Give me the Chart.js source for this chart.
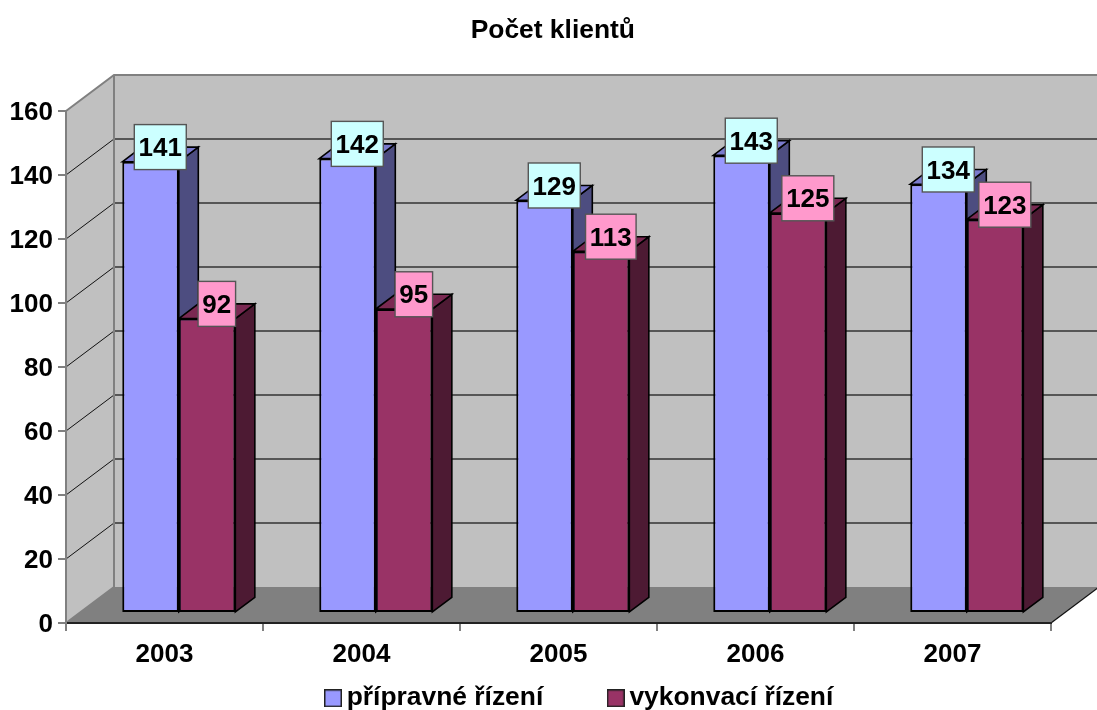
<!DOCTYPE html>
<html><head><meta charset="utf-8">
<style>html,body{margin:0;padding:0;background:#fff}canvas{display:block}</style>
<script src="https://cdn.jsdelivr.net/npm/chart.js@4"></script></head>
<body><canvas id="c" width="1097" height="710"></canvas>
<script>
const categories = ['2003','2004','2005','2006','2007'];
const pripravne = [141,142,129,143,134];
const vykonvaci = [92,95,113,125,123];
const seriesNames = ['přípravné řízení','vykonvací řízení'];
const titleText = 'Počet klientů';
const FONT = 'Arial, "Liberation Sans", sans-serif';
const FS = 26;

// 3D projection (pixels)
const WALL = {dx:48, dy:36};
const BAR_IN = {dx:14.3, dy:10};
const BAR_D = {dx:19.5, dy:14.7};

const faces = [
  {front:'#9999ff', top:'#7a7acc', side:'#4d4d80', label:'#ccffff'},
  {front:'#993366', top:'#7a2952', side:'#4d1a33', label:'#ff99cc'}
];

function legendSwatch(color){
  const c=document.createElement('canvas');c.width=18;c.height=18;
  const g=c.getContext('2d');g.fillStyle=color;g.fillRect(0,0,18,18);
  g.strokeStyle='#222';g.lineWidth=1.5;g.strokeRect(.75,.75,16.5,16.5);return c;
}
const GAP = 72;

const plugin3d = {
  id:'plugin3d',
  beforeLayout(chart){
    const l=chart.legend;
    if(l && !l._fitWrapped){
      const f=l.fit;
      l.fit=function(){f.call(this);this.height=36;};
      l._fitWrapped=true;
    }
  },
  afterLayout(chart){
    const l=chart.legend;
    l.left=332.5-GAP; l.right=1097; l.top=685-GAP; l.bottom=710;
    const t=chart.titleBlock;
    t.left+=27.3; t.right+=27.3;
  },
  beforeDraw(chart){
    const {ctx,chartArea:a,scales:{y}}=chart;
    const L=a.left,R=a.right,B=y.getPixelForValue(0),T=y.getPixelForValue(160);
    const d=WALL;
    ctx.save();
    ctx.fillStyle='#c0c0c0';
    ctx.fillRect(L+d.dx,T-d.dy,R-L,B-T);
    ctx.beginPath();ctx.moveTo(L,B);ctx.lineTo(L,T);ctx.lineTo(L+d.dx,T-d.dy);ctx.lineTo(L+d.dx,B-d.dy);ctx.closePath();ctx.fill();
    ctx.fillStyle='#808080';
    ctx.beginPath();ctx.moveTo(L,B);ctx.lineTo(R,B);ctx.lineTo(R+d.dx,B-d.dy);ctx.lineTo(L+d.dx,B-d.dy);ctx.closePath();ctx.fill();
    // gridlines
    y.ticks.forEach(t=>{
      if(t.value===0||t.value===160) return;
      const p=y.getPixelForValue(t.value);
      ctx.strokeStyle='#111';ctx.lineWidth=1;
      ctx.beginPath();ctx.moveTo(L,p);ctx.lineTo(L+d.dx,p-d.dy);ctx.stroke();
      ctx.strokeStyle='#333';ctx.lineWidth=1.4;
      ctx.beginPath();ctx.moveTo(L+d.dx,p-d.dy);ctx.lineTo(R+d.dx,p-d.dy);ctx.stroke();
    });
    // wall edges
    ctx.strokeStyle='#808080';ctx.lineWidth=2;
    ctx.beginPath();ctx.moveTo(L,T);ctx.lineTo(L+d.dx,T-d.dy);ctx.lineTo(R+d.dx,T-d.dy);ctx.stroke();
    ctx.beginPath();ctx.moveTo(L+d.dx,T-d.dy);ctx.lineTo(L+d.dx,B-d.dy);ctx.lineTo(L,B);ctx.stroke();
    ctx.strokeStyle='#111';ctx.lineWidth=1.2;
    ctx.beginPath();ctx.moveTo(R,B);ctx.lineTo(R+d.dx,B-d.dy);ctx.stroke();
    ctx.restore();
  },
  beforeDatasetsDraw(chart){
    const {ctx}=chart;
    ctx.save();
    ctx.translate(BAR_IN.dx,-BAR_IN.dy);
    ctx.strokeStyle='#000';ctx.lineWidth=1.6;ctx.lineJoin='miter';
    chart.getSortedVisibleDatasetMetas().forEach(meta=>{
      const f=faces[meta.index];
      meta.data.forEach(b=>{
        const xr=b.x+b.width/2, xl=b.x-b.width/2, yt=b.y, yb=b.base;
        ctx.fillStyle=f.side;
        ctx.beginPath();ctx.moveTo(xr,yt);ctx.lineTo(xr+BAR_D.dx,yt-BAR_D.dy);ctx.lineTo(xr+BAR_D.dx,yb-BAR_D.dy);ctx.lineTo(xr,yb);ctx.closePath();ctx.fill();ctx.stroke();
        ctx.fillStyle=f.top;
        ctx.beginPath();ctx.moveTo(xl,yt);ctx.lineTo(xl+BAR_D.dx,yt-BAR_D.dy);ctx.lineTo(xr+BAR_D.dx,yt-BAR_D.dy);ctx.lineTo(xr,yt);ctx.closePath();ctx.fill();ctx.stroke();
      });
    });
    ctx.restore();
  },
  beforeDatasetDraw(chart){chart.ctx.save();chart.ctx.translate(BAR_IN.dx,-BAR_IN.dy);},
  afterDatasetDraw(chart){chart.ctx.restore();},
  afterDatasetsDraw(chart){
    const {ctx}=chart;
    ctx.save();
    ctx.font='bold '+FS+'px '+FONT;
    ctx.textAlign='center';ctx.textBaseline='middle';
    chart.getSortedVisibleDatasetMetas().slice().sort((a,b)=>a.index-b.index).forEach(meta=>{
      const f=faces[meta.index];
      const vals=chart.data.datasets[meta.index].data;
      meta.data.forEach((b,i)=>{
        const txt=String(vals[i]);
        const w=ctx.measureText(txt).width+8.6,h=45;
        const cx=b.x+BAR_IN.dx+BAR_D.dx/2, cy=b.y-BAR_IN.dy-BAR_D.dy;
        ctx.fillStyle=f.label;ctx.fillRect(cx-w/2,cy-h/2,w,h);
        ctx.strokeStyle='#555';ctx.lineWidth=1.4;ctx.strokeRect(cx-w/2,cy-h/2,w,h);
        ctx.fillStyle='#000';ctx.fillText(txt,cx,cy+2);
      });
    });
    ctx.restore();
  }
};

new Chart(document.getElementById('c'),{
  type:'bar',
  data:{labels:categories,datasets:[
    {label:seriesNames[0],data:pripravne,backgroundColor:faces[0].front,borderColor:'#000',borderWidth:2,borderSkipped:false,clip:false,pointStyle:legendSwatch(faces[0].front)},
    {label:seriesNames[1],data:vykonvaci,backgroundColor:faces[1].front,borderColor:'#000',borderWidth:2,borderSkipped:false,clip:false,pointStyle:legendSwatch(faces[1].front)}
  ]},
  plugins:[plugin3d],
  options:{
    responsive:false,animation:false,
    layout:{padding:{left:0,right:46,top:0,bottom:0}},
    datasets:{bar:{categoryPercentage:0.574,barPercentage:1}},
    plugins:{
      tooltip:{enabled:false},
      title:{display:true,text:titleText,color:'#000',font:{family:FONT,size:26.4,weight:'bold',lineHeight:1.2},padding:{top:14.5,bottom:64.8}},
      legend:{display:true,position:'bottom',align:'start',onClick:null,
        labels:{usePointStyle:true,pointStyleWidth:1,boxHeight:18,padding:GAP,color:'#000',font:{family:FONT,size:26.4,weight:'bold'}}}
    },
    scales:{
      x:{offset:true,
        afterFit(s){s.height=51;},
        grid:{display:true,drawOnChartArea:false,drawTicks:true,tickLength:8,color:'#808080',lineWidth:2},
        border:{display:true,color:'#222',width:2},
        ticks:{color:'#000',padding:8,maxRotation:0,font:{family:FONT,size:FS,weight:'bold'}}
      },
      y:{min:0,max:160,
        afterFit(s){s.width=66;},
        grid:{display:true,drawOnChartArea:false,drawTicks:true,tickLength:8,color:'#808080',lineWidth:2},
        border:{display:true,color:'#808080',width:2},
        ticks:{stepSize:20,color:'#000',padding:5,labelOffset:2,font:{family:FONT,size:FS,weight:'bold'}}
      }
    }
  }
});
</script></body></html>
